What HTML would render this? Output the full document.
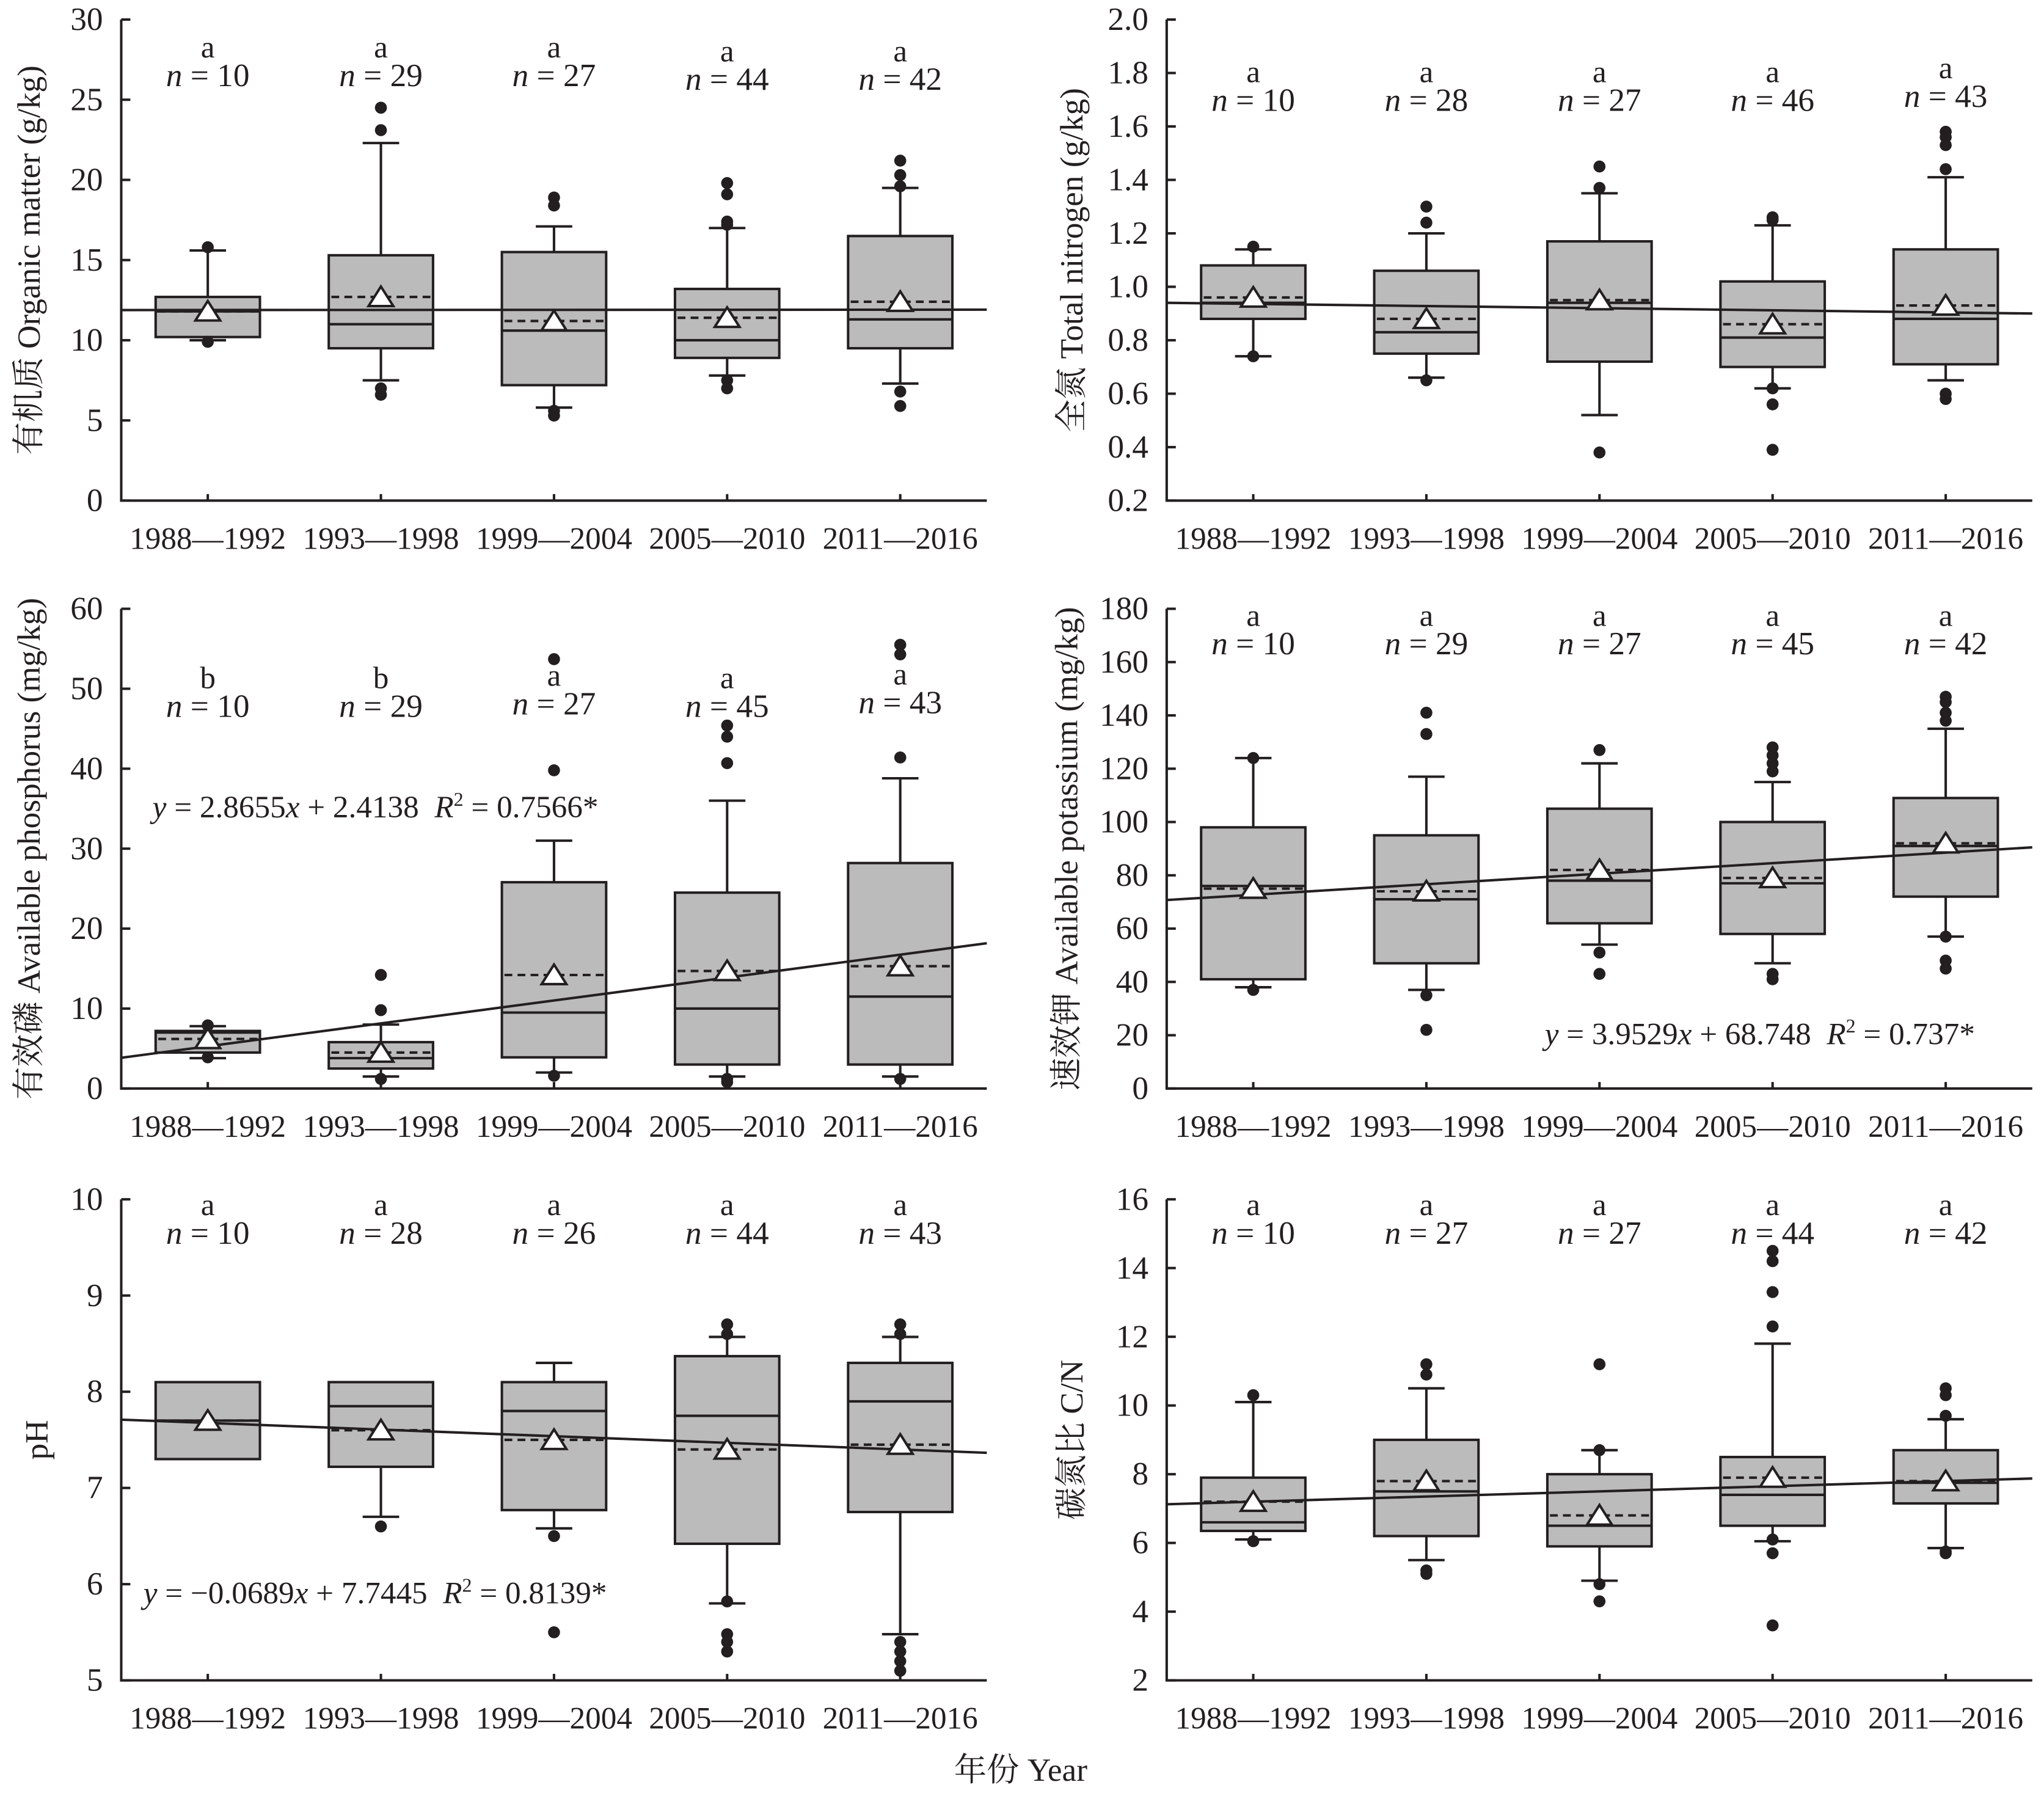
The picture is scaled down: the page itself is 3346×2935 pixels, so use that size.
<!DOCTYPE html>
<html><head><meta charset="utf-8"><style>
html,body{margin:0;padding:0;background:#fff}
svg{display:block}
text{font-family:"Liberation Serif","Noto Serif CJK SC",serif;fill:#231f20}
</style></head><body>
<svg id="chart" xmlns="http://www.w3.org/2000/svg" width="3346" height="2935" viewBox="0 0 1568 1375.4"></svg>
<script>
const categories=["1988—1992","1993—1998","1999—2004","2005—2010","2011—2016"];
// Panel 1 organic matter
const omLow=[10,7.5,5.8,7.8,7.3];const omQ1=[10.2,9.5,7.2,8.9,9.5];const omMed=[11.8,11,10.6,10,11.3];const omQ3=[12.7,15.3,15.5,13.2,16.5];const omHigh=[15.6,22.3,17.1,17.0,19.5];const omMean=[11.8,12.7,11.2,11.4,12.4];
const omOut=[[15.8,9.9],[24.5,23.1,7.0,6.6],[18.9,18.4,5.6,5.3],[19.8,19.1,17.4,17.2,7.5,7.0],[21.2,20.3,19.6,6.8,5.9]];
const omLetters=["a","a","a","a","a"];const omN=[10,29,27,44,42];
// Panel 2 total nitrogen
const tnLow=[0.74,0.66,0.52,0.62,0.65];const tnQ1=[0.88,0.75,0.72,0.70,0.71];const tnMed=[0.94,0.83,0.94,0.81,0.88];const tnQ3=[1.08,1.06,1.17,1.02,1.14];const tnHigh=[1.14,1.20,1.35,1.23,1.41];const tnMean=[0.96,0.88,0.95,0.86,0.93];
const tnOut=[[1.15,0.74],[1.30,1.24,0.65],[1.45,1.37,0.38],[1.26,1.25,0.62,0.56,0.39],[1.58,1.56,1.53,1.44,0.60,0.58]];
const tnLetters=["a","a","a","a","a"];const tnN=[10,28,27,46,43];
// Panel 3 available phosphorus
const apLow=[3.8,1.5,2,1.5,1.5];const apQ1=[4.5,2.5,3.9,3,3];const apMed=[7,3.8,9.5,10,11.5];const apQ3=[7.2,5.8,25.8,24.5,28.2];const apHigh=[7.8,8.0,31,36,38.8];const apMean=[6.2,4.5,14.2,14.7,15.3];
const apOut=[[7.9,3.9],[14.2,9.8,1.2],[53.7,39.8,1.6],[45.4,44,40.7,1.2,0.8],[55.5,54.3,41.4,1.2]];
const apLetters=["b","b","a","a","a"];const apN=[10,29,27,45,43];
// Panel 4 available potassium
const akLow=[38,37,54,47,57];const akQ1=[41,47,62,58,72];const akMed=[76,71,78,77,91];const akQ3=[98,95,105,100,109];const akHigh=[124,117,122,115,135];const akMean=[75,74,82,79,92];
const akOut=[[124,37],[141,133,35,22],[127,51,43],[128,125,122,119,43,41],[147,145,141,138,57,48,45]];
const akLetters=["a","a","a","a","a"];const akN=[10,29,27,45,42];
// Panel 5 pH
const phLow=[7.3,6.7,6.58,5.8,5.48];const phQ1=[7.3,7.22,6.77,6.42,6.75];const phMed=[7.7,7.85,7.8,7.75,7.9];const phQ3=[8.1,8.1,8.1,8.37,8.3];const phHigh=[8.1,8.1,8.3,8.57,8.57];const phMean=[7.7,7.6,7.5,7.4,7.45];
const phOut=[[],[6.6],[6.5,5.5],[8.7,8.6,5.82,5.48,5.4,5.3],[8.7,8.6,5.4,5.3,5.2,5.1]];
const phLetters=["a","a","a","a","a"];const phN=[10,28,26,44,43];
// Panel 6 C/N
const cnLow=[6.1,5.5,4.9,6.05,5.85];const cnQ1=[6.35,6.2,5.9,6.5,7.15];const cnMed=[6.6,7.5,6.5,7.4,7.75];const cnQ3=[7.9,9.0,8.0,8.5,8.7];const cnHigh=[10.1,10.5,8.7,11.8,9.6];const cnMean=[7.2,7.8,6.8,7.9,7.8];
const cnOut=[[10.3,6.05],[11.2,10.9,5.2,5.1],[11.2,8.7,4.8,4.3],[14.5,14.2,13.3,12.3,6.1,5.7,3.6],[10.5,10.3,9.7,5.75,5.7]];
const cnLetters=["a","a","a","a","a"];const cnN=[10,27,27,44,42];
// Regression coefficients [slope, intercept]
const omFit=[0.005,11.88];const tnFit=[-0.008,0.944];const apFit=[2.8655,2.4138];const akFit=[3.9529,68.748];const phFit=[-0.0689,7.7445];const cnFit=[0.15,7.05];
const omTicks=[0,5,10,15,20,25,30];const tnTicks=[0.2,0.4,0.6,0.8,1.0,1.2,1.4,1.6,1.8,2.0];const apTicks=[0,10,20,30,40,50,60];const akTicks=[0,20,40,60,80,100,120,140,160,180];const phTicks=[5,6,7,8,9,10];const cnTicks=[2,4,6,8,10,12,14,16];

const NS="http://www.w3.org/2000/svg";const svg=document.getElementById('chart');
function el(tag,attrs,parent,txt){const e=document.createElementNS(NS,tag);for(const k in attrs)e.setAttribute(k,attrs[k]);if(txt!==undefined)e.textContent=txt;(parent||svg).appendChild(e);return e;}
const C="#231f20",LW=1.9,SP="\u00a0\u00a0";
const panels=[
{id:"organic-matter",x0:93,y0:15,y1:384,ticks:omTicks,dec:0,lo:omLow,q1:omQ1,med:omMed,q3:omQ3,hi:omHigh,mean:omMean,out:omOut,let:omLetters,n:omN,fit:omFit,title:"有机质 Organic matter (g/kg)",tx:22,ly:[44,44,44,47,47]},
{id:"total-nitrogen",x0:895,y0:15,y1:384,ticks:tnTicks,dec:1,lo:tnLow,q1:tnQ1,med:tnMed,q3:tnQ3,hi:tnHigh,mean:tnMean,out:tnOut,let:tnLetters,n:tnN,fit:tnFit,title:"全氮 Total nitrogen (g/kg)",tx:822,ly:[63,63,63,63,60]},
{id:"available-phosphorus",x0:93,y0:467,y1:835,ticks:apTicks,dec:0,lo:apLow,q1:apQ1,med:apMed,q3:apQ3,hi:apHigh,mean:apMean,out:apOut,let:apLetters,n:apN,fit:apFit,title:"有效磷 Available phosphorus (mg/kg)",tx:22,ly:[528,528,526,528,525],eq:[" = 2.8655"," + 2.4138"+SP," = 0.7566*"],ex:117,ey:627},
{id:"available-potassium",x0:895,y0:467,y1:835,ticks:akTicks,dec:0,lo:akLow,q1:akQ1,med:akMed,q3:akQ3,hi:akHigh,mean:akMean,out:akOut,let:akLetters,n:akN,fit:akFit,title:"速效钾 Available potassium (mg/kg)",tx:818,ly:[480,480,480,480,480],eq:[" = 3.9529"," + 68.748"+SP," = 0.737*"],ex:1185,ey:801},
{id:"ph",x0:93,y0:920,y1:1289,ticks:phTicks,dec:0,lo:phLow,q1:phQ1,med:phMed,q3:phQ3,hi:phHigh,mean:phMean,out:phOut,let:phLetters,n:phN,fit:phFit,title:"pH",tx:28,ly:[932,932,932,932,932],eq:[" = −0.0689"," + 7.7445"+SP," = 0.8139*"],ex:110,ey:1230},
{id:"carbon-nitrogen-ratio",x0:895,y0:920,y1:1289,ticks:cnTicks,dec:0,lo:cnLow,q1:cnQ1,med:cnMed,q3:cnQ3,hi:cnHigh,mean:cnMean,out:cnOut,let:cnLetters,n:cnN,fit:cnFit,title:"碳氮比 C/N",tx:822,ly:[932,932,932,932,932]}
];
const W=664,BW=80,CAP=28;
panels.forEach(p=>{
 const g=el('g',{});
 
 
 const vmin=p.ticks[0],vmax=p.ticks[p.ticks.length-1];
 const Y=v=>p.y1-(v-vmin)/(vmax-vmin)*(p.y1-p.y0);
 const X=i=>p.x0+(i+0.5)/5*W;
 const ax=el('path',{d:`M${p.x0},${p.y0}V${p.y1}H${p.x0+W}`,fill:'none',stroke:C,'stroke-width':LW},g);
 
 
 p.ticks.forEach(t=>{const y=Y(t);
  el('line',{x1:p.x0,x2:p.x0+7,y1:y,y2:y,stroke:C,'stroke-width':LW},g);
  const tl=el('text',{x:p.x0-14,y:y+8,'text-anchor':'end','font-size':25},g,t.toFixed(p.dec));
  
  });
 categories.forEach((c,i)=>{const x=X(i);
  el('line',{x1:x,x2:x,y1:p.y1,y2:p.y1-5,stroke:C,'stroke-width':LW},g);
  const xl=el('text',{x:x,y:p.y1+37,'text-anchor':'middle','font-size':24},g,c);
  
  });
 const ty=(p.y0+p.y1)/2;
 const tt=el('text',{x:p.tx,y:ty,'text-anchor':'middle','font-size':25,transform:`rotate(-90 ${p.tx} ${ty})`,'dominant-baseline':'central'},g,p.title);
 
 
 categories.forEach((c,i)=>{const x=X(i);
  const bg=el('g',{},g);
  
  
  el('line',{x1:x,x2:x,y1:Y(p.hi[i]),y2:Y(p.q3[i]),stroke:C,'stroke-width':LW},bg);
  el('line',{x1:x,x2:x,y1:Y(p.q1[i]),y2:Y(p.lo[i]),stroke:C,'stroke-width':LW},bg);
  if(p.hi[i]>p.q3[i])el('line',{x1:x-CAP/2,x2:x+CAP/2,y1:Y(p.hi[i]),y2:Y(p.hi[i]),stroke:C,'stroke-width':LW},bg);
  if(p.lo[i]<p.q1[i])el('line',{x1:x-CAP/2,x2:x+CAP/2,y1:Y(p.lo[i]),y2:Y(p.lo[i]),stroke:C,'stroke-width':LW},bg);
  el('rect',{x:x-BW/2,y:Y(p.q3[i]),width:BW,height:Y(p.q1[i])-Y(p.q3[i]),fill:'#bbbbbb',stroke:C,'stroke-width':LW},bg);
  el('line',{x1:x-BW/2,x2:x+BW/2,y1:Y(p.med[i]),y2:Y(p.med[i]),stroke:C,'stroke-width':LW},bg);
  el('line',{x1:x-BW/2+2,x2:x+BW/2-2,y1:Y(p.mean[i]),y2:Y(p.mean[i]),stroke:C,'stroke-width':LW,'stroke-dasharray':'6 4'},bg);
  p.out[i].forEach(v=>{const o=el('circle',{cx:x,cy:Y(v),r:4.6,fill:C},bg);
   
   });
 });
 const rl=el('line',{x1:X(-0.5),x2:X(4.5),y1:Y(p.fit[0]*0.5+p.fit[1]),y2:Y(p.fit[0]*5.5+p.fit[1]),stroke:C,'stroke-width':LW},g);
 
 
 categories.forEach((c,i)=>{const x=X(i),y=Y(p.mean[i]);
  const tr=el('path',{d:`M${x-9.5},${y+7}L${x},${y-8}L${x+9.5},${y+7}Z`,fill:'#fff',stroke:C,'stroke-width':LW},g);
  
  
  const lt=el('text',{x:x,y:p.ly[i],'text-anchor':'middle','font-size':24},g,p.let[i]);
  
  
  const nt=el('text',{x:x,y:p.ly[i]+22,'text-anchor':'middle','font-size':25},g);
  
  
  el('tspan',{'font-style':'italic'},nt,'n');el('tspan',{},nt,' = '+p.n[i]);
 });
 if(p.eq){const e=el('text',{x:p.ex,y:p.ey,'font-size':24},g);
  
  
  el('tspan',{'font-style':'italic'},e,'y');el('tspan',{},e,p.eq[0]);
  el('tspan',{'font-style':'italic'},e,'x');el('tspan',{},e,p.eq[1]);
  el('tspan',{'font-style':'italic'},e,'R');el('tspan',{'font-size':15,dy:-9},e,'2');el('tspan',{dy:9},e,p.eq[2]);
 }
});
const xt=el('text',{x:783,y:1366,'text-anchor':'middle','font-size':25},svg,'年份 Year');


</script>
</body></html>
